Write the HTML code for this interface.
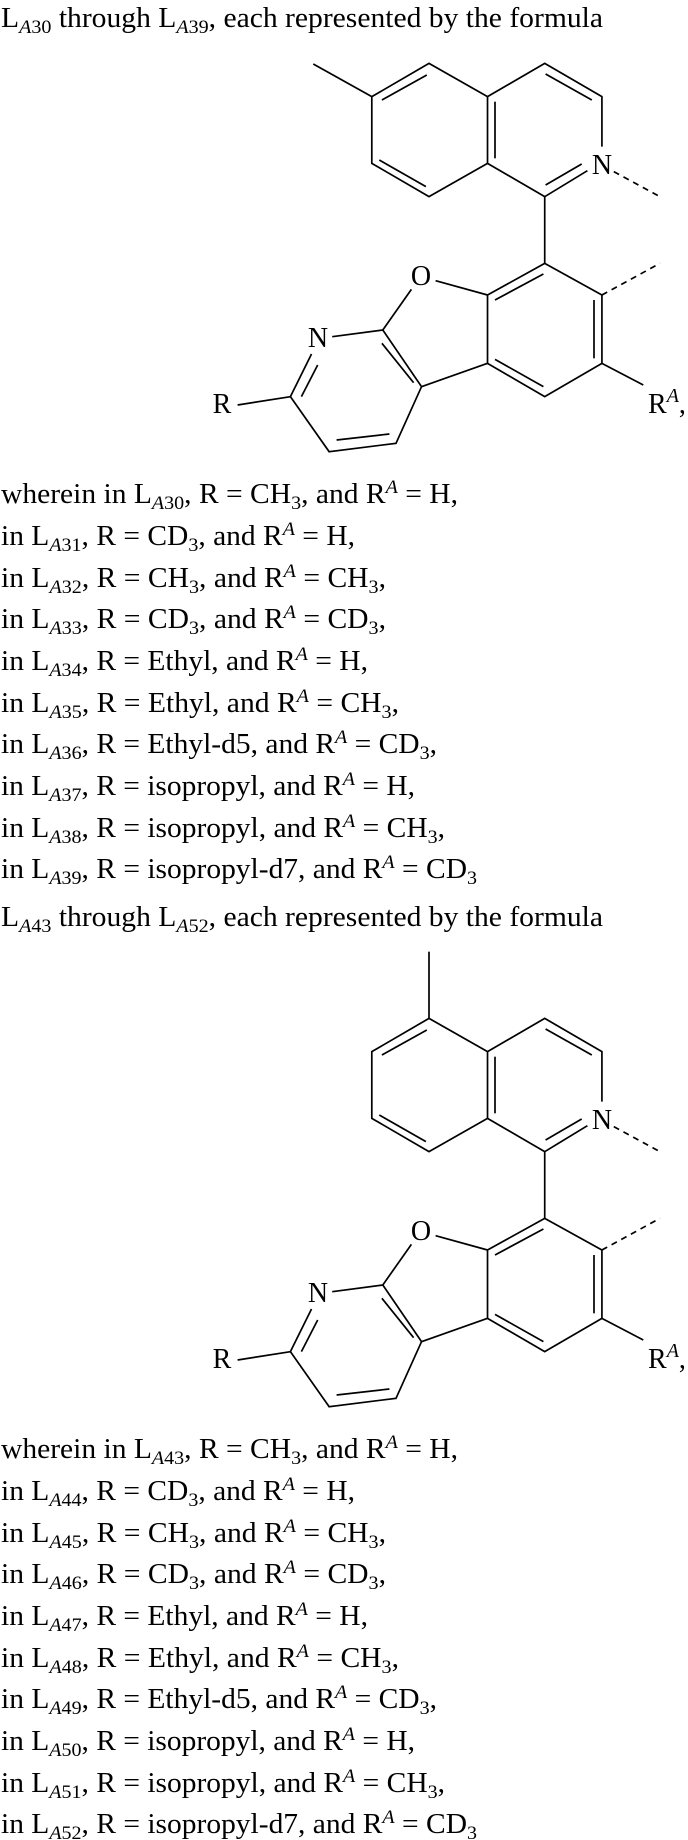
<!DOCTYPE html>
<html><head><meta charset="utf-8"><style>
html,body{margin:0;padding:0;background:#fff;}
svg{display:block;}
text{font-family:"Liberation Serif",serif;fill:#000;}
</style></head><body>
<svg width="688" height="1840" viewBox="0 0 688 1840" xmlns="http://www.w3.org/2000/svg">
<defs>
<g id="core" fill="none" stroke="#000">
  <!-- ring B -->
  <path vector-effect="non-scaling-stroke" stroke-width="1.7" d="M1108,290 L1238,190 L1368,290 L1368,440 M1335,512 L1238,590 L1108,490"/>
  <line vector-effect="non-scaling-stroke" stroke-width="1.7" x1="1108" y1="290" x2="1108" y2="490"/>
  <line vector-effect="non-scaling-stroke" stroke-width="1.7" x1="1125" y1="305" x2="1125" y2="475"/>
  <line vector-effect="non-scaling-stroke" stroke-width="1.7" x1="1240" y1="222" x2="1345" y2="300"/>
  <line vector-effect="non-scaling-stroke" stroke-width="1.7" x1="1240" y1="555" x2="1322" y2="492"/>
  <line vector-effect="non-scaling-stroke" stroke-width="1.7" stroke-dasharray="6,5" x1="1395" y1="515" x2="1500" y2="590"/>
  <line vector-effect="non-scaling-stroke" stroke-width="1.7" x1="1238" y1="590" x2="1238" y2="790"/>
  <!-- ring C -->
  <path vector-effect="non-scaling-stroke" stroke-width="1.7" d="M1238,790 L1368,885 L1368,1090 L1238,1190 L1108,1090 L1108,885 Z"/>
  <line vector-effect="non-scaling-stroke" stroke-width="1.7" x1="1125" y1="900" x2="1235" y2="822"/>
  <line vector-effect="non-scaling-stroke" stroke-width="1.7" x1="1350" y1="900" x2="1350" y2="1075"/>
  <line vector-effect="non-scaling-stroke" stroke-width="1.7" x1="1125" y1="1078" x2="1235" y2="1160"/>
  <line vector-effect="non-scaling-stroke" stroke-width="1.7" stroke-dasharray="6,5" x1="1368" y1="885" x2="1500" y2="790"/>
  <line vector-effect="non-scaling-stroke" stroke-width="1.7" x1="1368" y1="1090" x2="1462" y2="1155"/>
  <!-- furan -->
  <line vector-effect="non-scaling-stroke" stroke-width="1.7" x1="1108" y1="885" x2="990" y2="842"/>
  <line vector-effect="non-scaling-stroke" stroke-width="1.7" x1="935" y1="868" x2="870" y2="990"/>
  <line vector-effect="non-scaling-stroke" stroke-width="1.7" x1="870" y1="990" x2="958" y2="1160"/>
  <line vector-effect="non-scaling-stroke" stroke-width="1.7" x1="868" y1="1030" x2="940" y2="1148"/>
  <line vector-effect="non-scaling-stroke" stroke-width="1.7" x1="958" y1="1160" x2="1108" y2="1090"/>
  <!-- pyridine -->
  <line vector-effect="non-scaling-stroke" stroke-width="1.7" x1="870" y1="990" x2="755" y2="1010"/>
  <line vector-effect="non-scaling-stroke" stroke-width="1.7" x1="708" y1="1062" x2="660" y2="1190"/>
  <line vector-effect="non-scaling-stroke" stroke-width="1.7" x1="722" y1="1095" x2="685" y2="1190"/>
  <path vector-effect="non-scaling-stroke" stroke-width="1.7" d="M660,1190 L748,1355 L900,1330 L958,1160"/>
  <line vector-effect="non-scaling-stroke" stroke-width="1.7" x1="765" y1="1320" x2="885" y2="1302"/>
  <line vector-effect="non-scaling-stroke" stroke-width="1.7" x1="540" y1="1215" x2="660" y2="1190"/>
  <!-- ring A -->
  <path vector-effect="non-scaling-stroke" stroke-width="1.7" d="M1108,290 L975,190 L845,290 L845,490 L975,590 L1108,490"/>
  <line vector-effect="non-scaling-stroke" stroke-width="1.7" x1="868" y1="300" x2="970" y2="225"/>
  <line vector-effect="non-scaling-stroke" stroke-width="1.7" x1="862" y1="480" x2="968" y2="560"/>
</g>
</defs>

<!-- structure 1 -->
<g transform="scale(0.44,0.33333)">
  <use href="#core"/>
  <line vector-effect="non-scaling-stroke" stroke="#000" stroke-width="1.7" x1="712" y1="192" x2="845" y2="290"/>
</g>
<text x="602" y="174" font-size="28" text-anchor="middle">N</text>
<text x="421" y="285" font-size="28" text-anchor="middle">O</text>
<text x="318" y="347" font-size="28" text-anchor="middle">N</text>
<text x="222" y="413" font-size="28" text-anchor="middle">R</text>
<text x="648" y="413" font-size="28">R<tspan font-size="20" font-style="italic" dy="-11">A</tspan><tspan dy="11">,</tspan></text>

<!-- structure 2 -->
<g transform="translate(0,955) scale(0.44,0.33333)">
  <use href="#core"/>
  <line vector-effect="non-scaling-stroke" stroke="#000" stroke-width="1.7" x1="975" y1="190" x2="975" y2="-10"/>
</g>
<text x="602" y="1129" font-size="28" text-anchor="middle">N</text>
<text x="421" y="1240" font-size="28" text-anchor="middle">O</text>
<text x="318" y="1302" font-size="28" text-anchor="middle">N</text>
<text x="222" y="1368" font-size="28" text-anchor="middle">R</text>
<text x="648" y="1368" font-size="28">R<tspan font-size="20" font-style="italic" dy="-11">A</tspan><tspan dy="11">,</tspan></text>

<!-- titles -->
<text x="1" y="27" font-size="28" textLength="602" lengthAdjust="spacingAndGlyphs">L<tspan font-size="19" dy="6"><tspan font-style="italic">A</tspan>30</tspan><tspan dy="-6"> through L</tspan><tspan font-size="19" dy="6"><tspan font-style="italic">A</tspan>39</tspan><tspan dy="-6">, each represented by the formula</tspan></text>
<text x="1" y="926" font-size="28" textLength="602" lengthAdjust="spacingAndGlyphs">L<tspan font-size="19" dy="6"><tspan font-style="italic">A</tspan>43</tspan><tspan dy="-6"> through L</tspan><tspan font-size="19" dy="6"><tspan font-style="italic">A</tspan>52</tspan><tspan dy="-6">, each represented by the formula</tspan></text>

<!-- list 1 -->
<g font-size="28">
<text x="1" y="503" textLength="457" lengthAdjust="spacingAndGlyphs">wherein in L<tspan font-size="19" dy="6"><tspan font-style="italic">A</tspan>30</tspan><tspan dy="-6">, R = CH</tspan><tspan font-size="19" dy="6">3</tspan><tspan dy="-6">, and R</tspan><tspan font-size="19" font-style="italic" dy="-10">A</tspan><tspan dy="10"> = H,</tspan></text>
<text x="1" y="545" textLength="354" lengthAdjust="spacingAndGlyphs">in L<tspan font-size="19" dy="6"><tspan font-style="italic">A</tspan>31</tspan><tspan dy="-6">, R = CD</tspan><tspan font-size="19" dy="6">3</tspan><tspan dy="-6">, and R</tspan><tspan font-size="19" font-style="italic" dy="-10">A</tspan><tspan dy="10"> = H,</tspan></text>
<text x="1" y="587" textLength="385" lengthAdjust="spacingAndGlyphs">in L<tspan font-size="19" dy="6"><tspan font-style="italic">A</tspan>32</tspan><tspan dy="-6">, R = CH</tspan><tspan font-size="19" dy="6">3</tspan><tspan dy="-6">, and R</tspan><tspan font-size="19" font-style="italic" dy="-10">A</tspan><tspan dy="10"> = CH</tspan><tspan font-size="19" dy="6">3</tspan><tspan dy="-6">,</tspan></text>
<text x="1" y="628" textLength="385" lengthAdjust="spacingAndGlyphs">in L<tspan font-size="19" dy="6"><tspan font-style="italic">A</tspan>33</tspan><tspan dy="-6">, R = CD</tspan><tspan font-size="19" dy="6">3</tspan><tspan dy="-6">, and R</tspan><tspan font-size="19" font-style="italic" dy="-10">A</tspan><tspan dy="10"> = CD</tspan><tspan font-size="19" dy="6">3</tspan><tspan dy="-6">,</tspan></text>
<text x="1" y="670" textLength="367" lengthAdjust="spacingAndGlyphs">in L<tspan font-size="19" dy="6"><tspan font-style="italic">A</tspan>34</tspan><tspan dy="-6">, R = Ethyl, and R</tspan><tspan font-size="19" font-style="italic" dy="-10">A</tspan><tspan dy="10"> = H,</tspan></text>
<text x="1" y="712" textLength="398" lengthAdjust="spacingAndGlyphs">in L<tspan font-size="19" dy="6"><tspan font-style="italic">A</tspan>35</tspan><tspan dy="-6">, R = Ethyl, and R</tspan><tspan font-size="19" font-style="italic" dy="-10">A</tspan><tspan dy="10"> = CH</tspan><tspan font-size="19" dy="6">3</tspan><tspan dy="-6">,</tspan></text>
<text x="1" y="753" textLength="436" lengthAdjust="spacingAndGlyphs">in L<tspan font-size="19" dy="6"><tspan font-style="italic">A</tspan>36</tspan><tspan dy="-6">, R = Ethyl-d5, and R</tspan><tspan font-size="19" font-style="italic" dy="-10">A</tspan><tspan dy="10"> = CD</tspan><tspan font-size="19" dy="6">3</tspan><tspan dy="-6">,</tspan></text>
<text x="1" y="795" textLength="414" lengthAdjust="spacingAndGlyphs">in L<tspan font-size="19" dy="6"><tspan font-style="italic">A</tspan>37</tspan><tspan dy="-6">, R = isopropyl, and R</tspan><tspan font-size="19" font-style="italic" dy="-10">A</tspan><tspan dy="10"> = H,</tspan></text>
<text x="1" y="837" textLength="444" lengthAdjust="spacingAndGlyphs">in L<tspan font-size="19" dy="6"><tspan font-style="italic">A</tspan>38</tspan><tspan dy="-6">, R = isopropyl, and R</tspan><tspan font-size="19" font-style="italic" dy="-10">A</tspan><tspan dy="10"> = CH</tspan><tspan font-size="19" dy="6">3</tspan><tspan dy="-6">,</tspan></text>
<text x="1" y="878" textLength="476" lengthAdjust="spacingAndGlyphs">in L<tspan font-size="19" dy="6"><tspan font-style="italic">A</tspan>39</tspan><tspan dy="-6">, R = isopropyl-d7, and R</tspan><tspan font-size="19" font-style="italic" dy="-10">A</tspan><tspan dy="10"> = CD</tspan><tspan font-size="19" dy="6">3</tspan></text>
</g>

<!-- list 2 -->
<g font-size="28">
<text x="1" y="1458" textLength="457" lengthAdjust="spacingAndGlyphs">wherein in L<tspan font-size="19" dy="6"><tspan font-style="italic">A</tspan>43</tspan><tspan dy="-6">, R = CH</tspan><tspan font-size="19" dy="6">3</tspan><tspan dy="-6">, and R</tspan><tspan font-size="19" font-style="italic" dy="-10">A</tspan><tspan dy="10"> = H,</tspan></text>
<text x="1" y="1500" textLength="354" lengthAdjust="spacingAndGlyphs">in L<tspan font-size="19" dy="6"><tspan font-style="italic">A</tspan>44</tspan><tspan dy="-6">, R = CD</tspan><tspan font-size="19" dy="6">3</tspan><tspan dy="-6">, and R</tspan><tspan font-size="19" font-style="italic" dy="-10">A</tspan><tspan dy="10"> = H,</tspan></text>
<text x="1" y="1542" textLength="385" lengthAdjust="spacingAndGlyphs">in L<tspan font-size="19" dy="6"><tspan font-style="italic">A</tspan>45</tspan><tspan dy="-6">, R = CH</tspan><tspan font-size="19" dy="6">3</tspan><tspan dy="-6">, and R</tspan><tspan font-size="19" font-style="italic" dy="-10">A</tspan><tspan dy="10"> = CH</tspan><tspan font-size="19" dy="6">3</tspan><tspan dy="-6">,</tspan></text>
<text x="1" y="1583" textLength="385" lengthAdjust="spacingAndGlyphs">in L<tspan font-size="19" dy="6"><tspan font-style="italic">A</tspan>46</tspan><tspan dy="-6">, R = CD</tspan><tspan font-size="19" dy="6">3</tspan><tspan dy="-6">, and R</tspan><tspan font-size="19" font-style="italic" dy="-10">A</tspan><tspan dy="10"> = CD</tspan><tspan font-size="19" dy="6">3</tspan><tspan dy="-6">,</tspan></text>
<text x="1" y="1625" textLength="367" lengthAdjust="spacingAndGlyphs">in L<tspan font-size="19" dy="6"><tspan font-style="italic">A</tspan>47</tspan><tspan dy="-6">, R = Ethyl, and R</tspan><tspan font-size="19" font-style="italic" dy="-10">A</tspan><tspan dy="10"> = H,</tspan></text>
<text x="1" y="1667" textLength="398" lengthAdjust="spacingAndGlyphs">in L<tspan font-size="19" dy="6"><tspan font-style="italic">A</tspan>48</tspan><tspan dy="-6">, R = Ethyl, and R</tspan><tspan font-size="19" font-style="italic" dy="-10">A</tspan><tspan dy="10"> = CH</tspan><tspan font-size="19" dy="6">3</tspan><tspan dy="-6">,</tspan></text>
<text x="1" y="1708" textLength="436" lengthAdjust="spacingAndGlyphs">in L<tspan font-size="19" dy="6"><tspan font-style="italic">A</tspan>49</tspan><tspan dy="-6">, R = Ethyl-d5, and R</tspan><tspan font-size="19" font-style="italic" dy="-10">A</tspan><tspan dy="10"> = CD</tspan><tspan font-size="19" dy="6">3</tspan><tspan dy="-6">,</tspan></text>
<text x="1" y="1750" textLength="414" lengthAdjust="spacingAndGlyphs">in L<tspan font-size="19" dy="6"><tspan font-style="italic">A</tspan>50</tspan><tspan dy="-6">, R = isopropyl, and R</tspan><tspan font-size="19" font-style="italic" dy="-10">A</tspan><tspan dy="10"> = H,</tspan></text>
<text x="1" y="1792" textLength="444" lengthAdjust="spacingAndGlyphs">in L<tspan font-size="19" dy="6"><tspan font-style="italic">A</tspan>51</tspan><tspan dy="-6">, R = isopropyl, and R</tspan><tspan font-size="19" font-style="italic" dy="-10">A</tspan><tspan dy="10"> = CH</tspan><tspan font-size="19" dy="6">3</tspan><tspan dy="-6">,</tspan></text>
<text x="1" y="1833" textLength="476" lengthAdjust="spacingAndGlyphs">in L<tspan font-size="19" dy="6"><tspan font-style="italic">A</tspan>52</tspan><tspan dy="-6">, R = isopropyl-d7, and R</tspan><tspan font-size="19" font-style="italic" dy="-10">A</tspan><tspan dy="10"> = CD</tspan><tspan font-size="19" dy="6">3</tspan></text>
</g>
</svg>
</body></html>
